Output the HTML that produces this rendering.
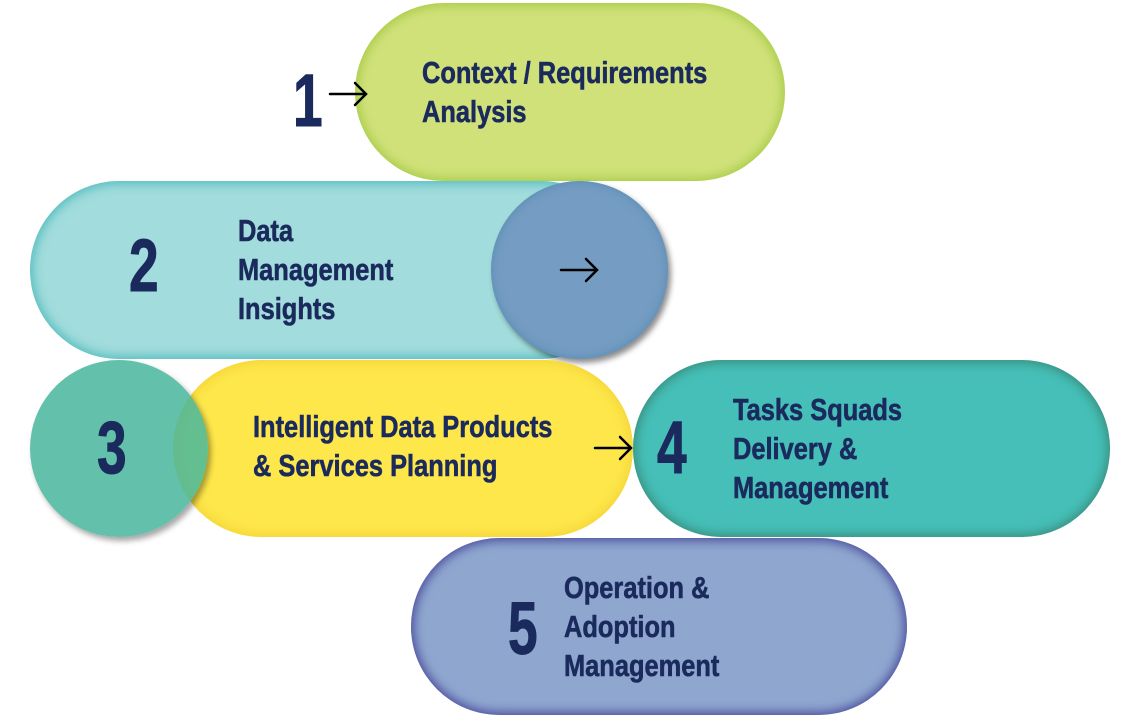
<!DOCTYPE html>
<html><head><meta charset="utf-8"><style>
body{margin:0;width:1142px;height:719px;background:#fff;position:relative;overflow:hidden;font-family:"Liberation Sans Narrow","Liberation Sans",sans-serif;font-weight:bold;color:#1b2a5c}
.s{position:absolute;box-sizing:border-box}
.p{border-radius:90px}
.c{border-radius:50%}
.t{position:absolute;font-size:31px;line-height:39px;white-space:nowrap;transform:scaleX(0.82);transform-origin:left top;-webkit-text-stroke:0.6px #1b2a5c}
.n{position:absolute;font-size:74px;line-height:74px;transform:scaleX(0.72);transform-origin:left top;-webkit-text-stroke:1px #1b2a5c}
.a{position:absolute}
</style></head><body>
<div class="s p" style="left:355px;top:3px;width:430px;height:178px;background:#d0e17a;box-shadow:inset 0 0 10px 3px #a9cc4a"></div>
<div class="s p" style="left:30px;top:181px;width:600px;height:178px;background:#a2dcdc;box-shadow:inset 0 0 10px 3px #55bdbf"></div>
<div class="s c" style="left:491px;top:181px;width:177px;height:178px;background:#759cc2;box-shadow:3px 4px 6px rgba(0,0,0,.45),inset 0 0 8px 2px #5f90b8"></div>
<div class="s p" style="left:173px;top:360px;width:460px;height:177px;background:#fde74a;box-shadow:inset 0 0 10px 3px #f5d53a"></div>
<div class="s c" style="left:30px;top:360px;width:178px;height:177px;background:rgba(72,182,156,0.85);box-shadow:3px 4px 6px rgba(0,0,0,.35)"></div>
<div class="s p" style="left:633px;top:360px;width:477px;height:177px;background:#45bfb7;box-shadow:inset 0 0 10px 3px #3a8f80"></div>
<div class="s p" style="left:411px;top:538px;width:496px;height:177px;background:#8fa7cf;box-shadow:inset 0 0 10px 3px #4c4f9e"></div>

<div class="n" style="left:293px;top:64px">1</div>
<div class="t" style="left:422px;top:53px">Context / Requirements<br>Analysis</div>
<div class="n" style="left:129px;top:229px">2</div>
<div class="t" style="left:238px;top:211px">Data<br>Management<br>Insights</div>
<div class="n" style="left:97px;top:411px">3</div>
<div class="t" style="left:253px;top:407px">Intelligent Data Products<br>&amp; Services Planning</div>
<div class="n" style="left:657px;top:411px">4</div>
<div class="t" style="left:733px;top:390px">Tasks Squads<br>Delivery &amp;<br>Management</div>
<div class="n" style="left:508px;top:592px">5</div>
<div class="t" style="left:564px;top:568px">Operation &amp;<br>Adoption<br>Management</div>

<svg class="a" style="left:0;top:0" width="1142" height="719">
<g stroke="#000" stroke-width="2.5" fill="none" stroke-linecap="round">
<path d="M330 94H366M355 83L366 94L355 105"/>
<path d="M561 270H597M586 259L597 270L586 281"/>
<path d="M595 448H631M620 437L631 448L620 459"/>
</g></svg>
</body></html>
